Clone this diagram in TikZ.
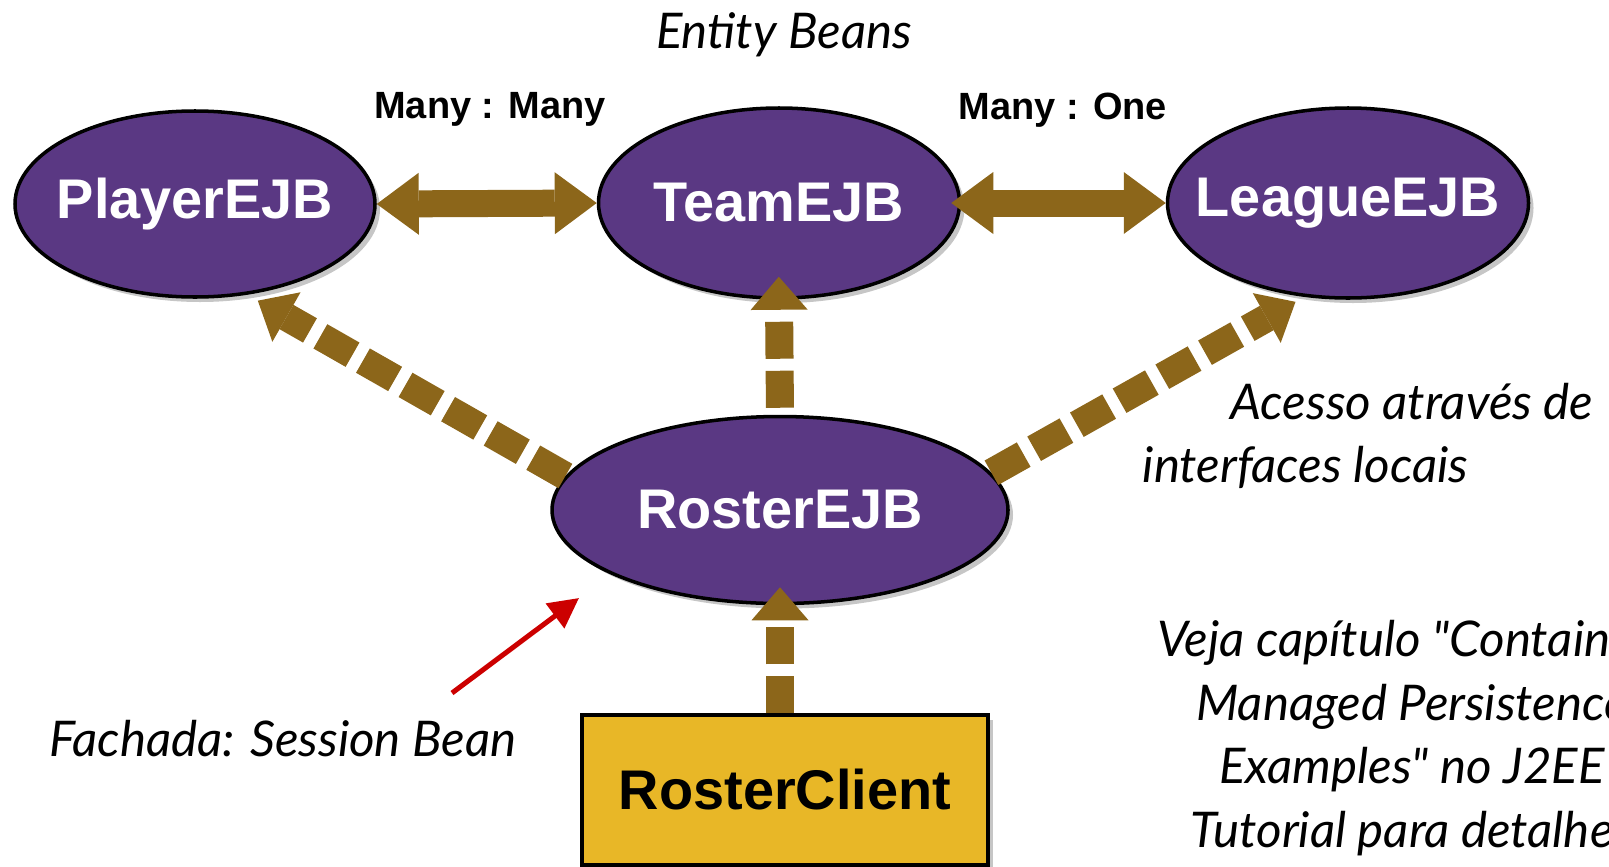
\documentclass[tikz,border=0pt]{standalone}
\usepackage{fontspec}
\setmainfont{Lato}
\newfontfamily\helv{Liberation Sans}
\usetikzlibrary{arrows.meta,shapes.geometric,shadows}
\definecolor{beanpurple}{RGB}{90,56,131}
\definecolor{arrowbrown}{RGB}{140,102,26}
\definecolor{clientgold}{RGB}{232,183,39}
\definecolor{noteRed}{RGB}{204,0,0}
\tikzset{>=latex,
  bean/.style={ellipse, draw=black, line width=1pt, fill=beanpurple, text=white, inner sep=0pt,
    font=\helv\bfseries\fontsize{15.9}{18}\selectfont,
    drop shadow={opacity=0.45, shadow xshift=0.05cm, shadow yshift=-0.05cm}},
  fatarrow/.style={draw=arrowbrown, line width=0.27cm,
    {Triangle[length=0.42cm, width=0.62cm, line width=0pt]}-{Triangle[length=0.42cm, width=0.62cm, line width=0pt]}},
  dasharrow/.style={draw=arrowbrown, line width=0.28cm, dash pattern=on 0.37cm off 0.12cm,
    -{Triangle[length=0.33cm, width=0.57cm, line width=0pt]}},
  relation/.style={inner sep=0pt, font=\helv\bfseries\fontsize{10.8}{12}\selectfont},
  remark/.style={inner sep=0pt, font=\itshape\fontsize{14}{18.1}\selectfont}
}

\begin{document}
\begin{tikzpicture}[]
            \useasboundingbox (0,0) rectangle (16.09,-8.66);
            % entity beans
            \node[bean, minimum width=3.6cm, minimum height=1.86cm] (player) at (1.95,-2.04) {\makebox[0pt]{PlayerEJB}};
            \node[bean, minimum width=3.61cm, minimum height=1.9cm] (team) at (7.79,-2.03) {\makebox[0pt]{TeamEJB}};
            \node[bean, minimum width=3.61cm, minimum height=1.9cm] (league) at (13.48,-2.03) {\makebox[0pt]{LeagueEJB}};
            % session bean and client
            \node[bean, minimum width=4.56cm, minimum height=1.87cm] (roster) at (7.80,-5.10) {\makebox[0pt]{RosterEJB}};
            \node[draw=black, line width=1pt, fill=clientgold, minimum width=4.06cm, minimum height=1.5cm,
                  font=\helv\bfseries\fontsize{15.9}{18}\selectfont,
                  drop shadow={opacity=0.45, shadow xshift=0.05cm, shadow yshift=-0.05cm}] (client) at (7.85,-7.90) {RosterClient};
            % relations
            \draw[fatarrow] (player.east) -- (team.west);
            \draw[fatarrow, shorten <=-0.1cm] (team.east) -- (league.west);
            \node[relation] (manymany) at (4.90,-1.09) {Many : Many};
            \node[relation] (manyone) at (10.63,-1.10) {Many : One};
            % local access
            \draw[dasharrow, shorten >=0.12cm] (roster.171) -- (player.-60);
            \draw[dasharrow, shorten <=0.07cm, shorten >=-0.23cm] (roster.north) -- (team.south);
            \draw[dasharrow, shorten >=0.1cm] (roster.10) -- (league.-115);
            \draw[dasharrow, shorten >=-0.18cm] (roster.south |- client.north) -- (roster.south);
            % notes
            \node[remark] (entity) at (7.84,-0.35) {Entity Beans};
            \node[remark, anchor=east] (acesso) at (15.94,-4.02) {Acesso através de};
            \node[remark, anchor=west] (locais) at (11.42,-4.67) {interfaces locais};
            \node[remark] (fachada) at (2.83,-7.39) {Fachada: Session Bean};
            \node[remark, align=center] (veja) at (14.12,-7.38) {Veja capítulo \textquotedbl{}Container-\\Managed Persistence\\Examples\textquotedbl{} no J2EE\\Tutorial para detalhes};
            \coordinate (redtail) at (4.52,-6.93);
            \coordinate (redtip) at (5.79,-5.98);
            \draw[noteRed, line width=0.05cm, -{Triangle[length=0.3cm, width=0.3cm]}] (redtail) -- (redtip);
        \end{tikzpicture}
\end{document}
